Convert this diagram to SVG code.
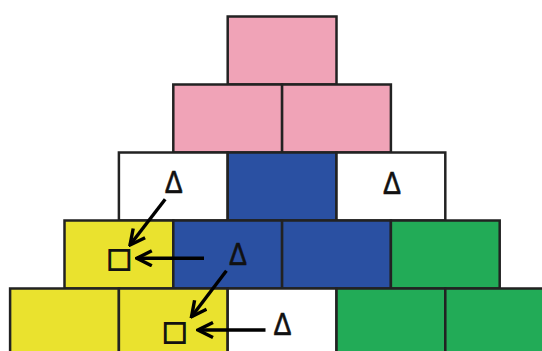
<svg xmlns="http://www.w3.org/2000/svg" width="542" height="351" viewBox="0 0 542 351">
<defs>
<style>
.b{stroke:#222;stroke-width:2.5}
.pk{fill:#F0A3B7}.bl{fill:#2A50A2}.ye{fill:#EAE22E}.gr{fill:#22AB57}.wh{fill:#FFFFFF}
.d{font-family:"Liberation Sans",Arial,sans-serif;font-size:32px;fill:#111;stroke:#111;stroke-width:0.6;text-anchor:middle}
.s{font-family:"DejaVu Sans",sans-serif;font-size:27px;fill:#111;stroke:#111;stroke-width:1.2;text-anchor:middle}
.ar{stroke:#000;stroke-width:3.4;fill:none}
</style>
<marker id="ah" markerUnits="userSpaceOnUse" viewBox="0 0 20 18" refX="18" refY="9" markerWidth="20" markerHeight="18" orient="auto">
<path d="M3,1.5 L18,9 L3,16.5" fill="none" stroke="#000" stroke-width="3.4"/>
</marker>
</defs>
<rect width="542" height="351" fill="#fff"/>
<g id="r1"><rect class="b pk" x="227.7" y="16.5" width="108.8" height="68"/></g>
<g id="r2a"><rect class="b pk" x="173.3" y="84.5" width="108.8" height="68"/></g>
<g id="r2b"><rect class="b pk" x="282.1" y="84.5" width="108.8" height="68"/></g>
<g id="r3a"><rect class="b wh" x="118.9" y="152.5" width="108.8" height="68"/><text class="d" x="173.7" y="193" textLength="18" lengthAdjust="spacingAndGlyphs">Δ</text></g>
<g id="r3b"><rect class="b bl" x="227.7" y="152.5" width="108.8" height="68"/></g>
<g id="r3c"><rect class="b wh" x="336.5" y="152.5" width="108.8" height="68"/><text class="d" x="392" y="194" textLength="18" lengthAdjust="spacingAndGlyphs">Δ</text></g>
<g id="r4a"><rect class="b ye" x="64.5" y="220.5" width="108.8" height="68"/><text class="s" x="119.3" y="267.3">□</text></g>
<g id="r4b"><rect class="b bl" x="173.3" y="220.5" width="108.8" height="68"/><text class="d" x="238" y="265" textLength="18" lengthAdjust="spacingAndGlyphs">Δ</text></g>
<g id="r4c"><rect class="b bl" x="282.1" y="220.5" width="108.8" height="68"/></g>
<g id="r4d"><rect class="b gr" x="390.9" y="220.5" width="108.8" height="68"/></g>
<g id="r5a"><rect class="b ye" x="10.1" y="288.5" width="108.8" height="68"/></g>
<g id="r5b"><rect class="b ye" x="118.9" y="288.5" width="108.8" height="68"/><text class="s" x="174.7" y="339.6">□</text></g>
<g id="r5c"><rect class="b wh" x="227.7" y="288.5" width="108.8" height="68"/><text class="d" x="282.5" y="335" textLength="18" lengthAdjust="spacingAndGlyphs">Δ</text></g>
<g id="r5d"><rect class="b gr" x="336.5" y="288.5" width="108.8" height="68"/></g>
<g id="r5e"><rect class="b gr" x="445.3" y="288.5" width="108.8" height="68"/></g>
<g id="connectors">
<line class="ar" x1="165.2" y1="199.3" x2="130" y2="245" marker-end="url(#ah)"/>
<line class="ar" x1="204" y1="258.3" x2="136.8" y2="258.3" marker-end="url(#ah)"/>
<line class="ar" x1="226.4" y1="270.7" x2="191.5" y2="316.7" marker-end="url(#ah)"/>
<line class="ar" x1="265.5" y1="330" x2="198" y2="330" marker-end="url(#ah)"/>
</g>
</svg>
